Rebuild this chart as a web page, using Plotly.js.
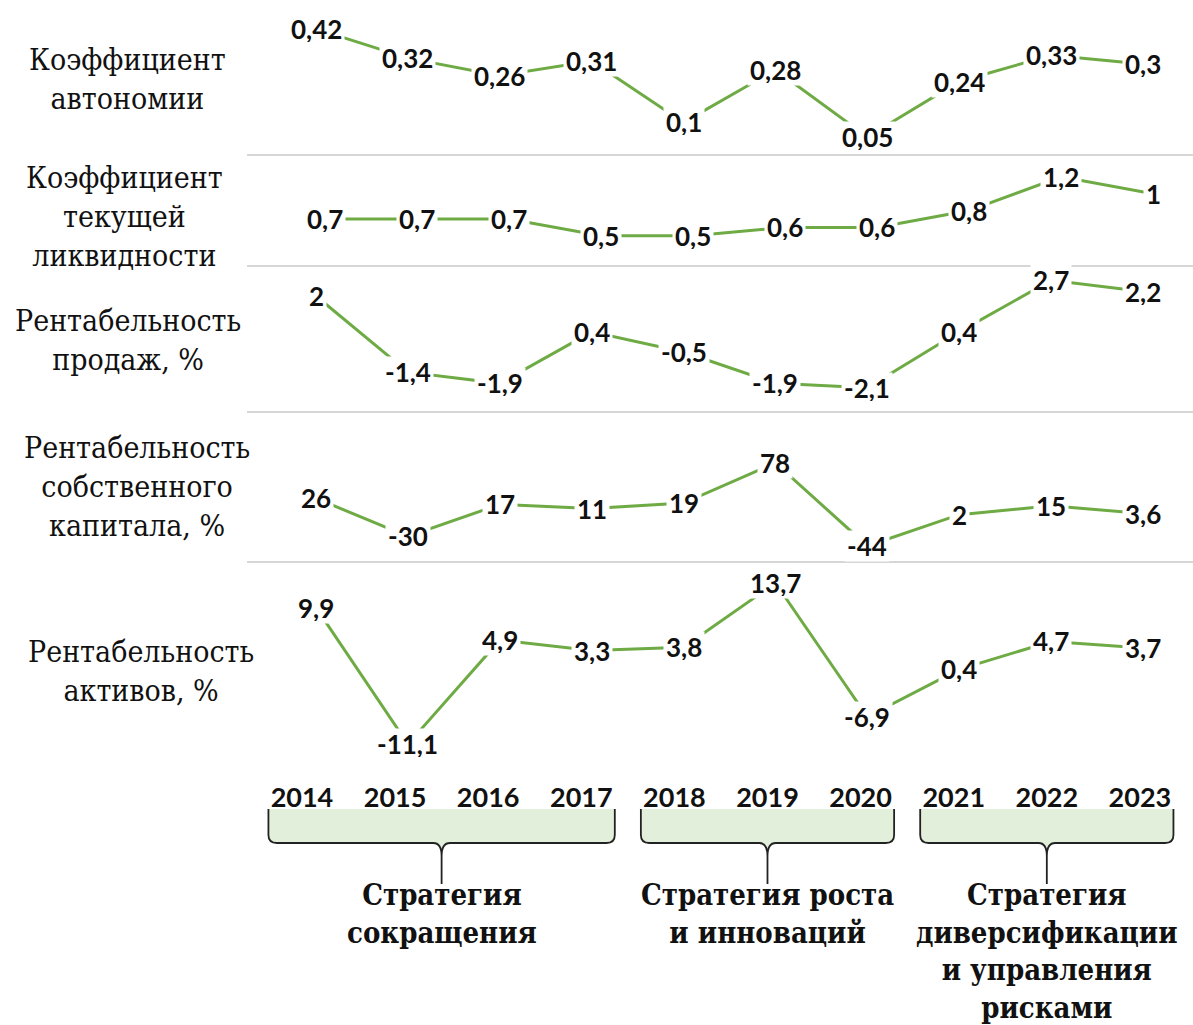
<!DOCTYPE html>
<html>
<head>
<meta charset="utf-8">
<script src="https://cdn.plot.ly/plotly-3.0.1.min.js"></script>
<style>
  html, body { margin: 0; padding: 0; background: #ffffff; }
  #chart { width: 1193px; height: 1025px; }
</style>
</head>
<body>
<div id="chart"></div>
<script>
// ---------------- DATA ----------------
const years = [2014, 2015, 2016, 2017, 2018, 2019, 2020, 2021, 2022, 2023];
const autonomyRatio = [0.42, 0.32, 0.26, 0.31, 0.1, 0.28, 0.05, 0.24, 0.33, 0.3];
const currentLiquidity = [0.7, 0.7, 0.7, 0.5, 0.5, 0.6, 0.6, 0.8, 1.2, 1];
const salesMargin = [2, -1.4, -1.9, 0.4, -0.5, -1.9, -2.1, 0.4, 2.7, 2.2];
const equityReturn = [26, -30, 17, 11, 19, 78, -44, 2, 15, 3.6];
const assetReturn = [9.9, -11.1, 4.9, 3.3, 3.8, 13.7, -6.9, 0.4, 4.7, 3.7];
const indicatorNames = [
  "Коэффициент<br>автономии",
  "Коэффициент<br>текущей<br>ликвидности",
  "Рентабельность<br>продаж, %",
  "Рентабельность<br>собственного<br>капитала, %",
  "Рентабельность<br>активов, %"
];
const strategyNames = [
  "Стратегия<br>сокращения",
  "Стратегия роста<br>и инноваций",
  "Стратегия<br>диверсификации<br>и управления<br>рисками"
];
const strategyStart = [2014, 2018, 2021];
const strategyEnd = [2017, 2020, 2023];

// ---------------- LAYOUT HELPERS ----------------
const W = 1193, H = 1025;
const py = p => 1 - p / H;          // pixel row -> paper y
const px = p => p / W;              // pixel col -> paper x
const green = "#6fab45";
const serifFamily = "DejaVu Serif Condensed, DejaVu Serif, serif";
const labelFont = { family: "Lato, Open Sans, sans-serif", size: 26, color: "#111111" };
const serifFont = { family: serifFamily, size: 30, color: "#111111" };
const serifBold = { family: serifFamily, size: 29, color: "#111111", weight: "bold" };

const series = [autonomyRatio, currentLiquidity, salesMargin, equityReturn, assetReturn];
// panel pixel bands (top, bottom) and value ranges shown in each band
const bands = [[0, 155], [155, 266], [266, 412], [412, 562], [562, 770]];
const yRanges = [[-0.0116, 0.519], [0.1423, 1.459], [-3.179, 3.339], [-67.6, 152.9], [-15.08, 16.93]];
const xAxisOf = ["x", "x2", "x", "x", "x"];
const nameCenters = [[127, 79], [124, 217], [128, 340], [137, 486], [141, 671]];

const fmt = v => String(v).replace(".", ",");

const traces = [];
const annotations = [];
const shapes = [];
const layout = {
  width: W, height: H,
  margin: { l: 0, r: 0, t: 0, b: 0 },
  paper_bgcolor: "#ffffff", plot_bgcolor: "rgba(0,0,0,0)",
  showlegend: false,
  hovermode: false,
  xaxis: { domain: [0, 1], range: [2010.561, 2023.544], visible: false, fixedrange: true },
  xaxis2: { domain: [0, 1], range: [2010.467, 2023.434], visible: false, fixedrange: true },
  xaxis3: {
    domain: [0, 1], range: [2010.757, 2023.57], anchor: "y6",
    showgrid: false, zeroline: false, showline: false, ticks: "",
    tickmode: "array", tickvals: years, ticktext: years.map(String),
    tickfont: { family: "Lato, Open Sans, sans-serif", size: 27, color: "#111111", weight: "bold" },
    fixedrange: true
  },
  yaxis6: { domain: [py(779), py(770)], range: [0, 1], visible: false, anchor: "x3", fixedrange: true }
};

series.forEach((vals, i) => {
  const xa = xAxisOf[i];
  const ya = i === 0 ? "y" : "y" + (i + 1);
  const yKey = i === 0 ? "yaxis" : "yaxis" + (i + 1);
  layout[yKey] = {
    domain: [py(bands[i][1]), py(bands[i][0])],
    range: yRanges[i], anchor: xa, visible: false, fixedrange: true
  };
  traces.push({
    type: "scatter", mode: "lines", x: years, y: vals,
    xaxis: xa, yaxis: ya,
    line: { color: green, width: 3 },
    cliponaxis: false, hoverinfo: "skip"
  });
  vals.forEach((v, k) => {
    annotations.push({
      x: years[k], y: v, xref: xa, yref: ya,
      text: "<b>" + fmt(v) + "</b>", showarrow: false,
      font: labelFont, bgcolor: "#ffffff", borderpad: 2, height: 26,
      xanchor: "center", yanchor: "middle"
    });
  });
  // indicator name on the left
  annotations.push({
    x: px(nameCenters[i][0]), y: py(nameCenters[i][1]), xref: "paper", yref: "paper",
    text: indicatorNames[i], showarrow: false, font: serifFont,
    xanchor: "center", yanchor: "middle", align: "center"
  });
  // separator under the panel
  if (i < series.length - 1) {
    shapes.push({
      type: "line", xref: "paper", yref: "paper",
      x0: px(247), x1: 1, y0: py(bands[i][1]), y1: py(bands[i][1]),
      line: { color: "#d6d6d6", width: 2 }
    });
  }
});

// invisible trace so the year axis is drawn
traces.push({
  type: "scatter", mode: "markers", x: years, y: years.map(() => 0.5),
  xaxis: "x3", yaxis: "y6", marker: { opacity: 0 }, hoverinfo: "skip"
});

// strategy braces
const pad = 0.36;
const yTop = py(809), yBot = py(843), yKnee = py(835), yNotch = py(856), yTip = py(884);
strategyStart.forEach((s, g) => {
  const L = s - pad, R = strategyEnd[g] + pad, C = (s + strategyEnd[g]) / 2;
  const c = 0.09;
  const fill = `M ${L},${yTop} L ${L},${yKnee} Q ${L},${yBot} ${L + c},${yBot} L ${C - c},${yBot} ` +
               `Q ${C},${yBot} ${C},${py(851)} Q ${C},${yBot} ${C + c},${yBot} L ${R - c},${yBot} ` +
               `Q ${R},${yBot} ${R},${yKnee} L ${R},${yTop} Z`;
  shapes.push({ type: "path", xref: "x3", yref: "paper", path: fill,
                fillcolor: "#e2efda", line: { width: 0 }, layer: "below" });
  const stroke = `M ${L},${yTop} L ${L},${yKnee} Q ${L},${yBot} ${L + c},${yBot} L ${C - c},${yBot} ` +
                 `Q ${C},${yBot} ${C},${yNotch} L ${C},${yTip} M ${C},${yNotch} Q ${C},${yBot} ${C + c},${yBot} ` +
                 `L ${R - c},${yBot} Q ${R},${yBot} ${R},${yKnee} L ${R},${yTop}`;
  shapes.push({ type: "path", xref: "x3", yref: "paper", path: stroke,
                line: { color: "#222222", width: 1.8 } });
  annotations.push({
    x: C, y: py(876), xref: "x3", yref: "paper",
    text: "<b>" + strategyNames[g] + "</b>", showarrow: false,
    font: serifBold, xanchor: "center", yanchor: "top", align: "center"
  });
});

layout.annotations = annotations;
layout.shapes = shapes;

Plotly.newPlot("chart", traces, layout, { staticPlot: true, displayModeBar: false });
</script>
</body>
</html>
